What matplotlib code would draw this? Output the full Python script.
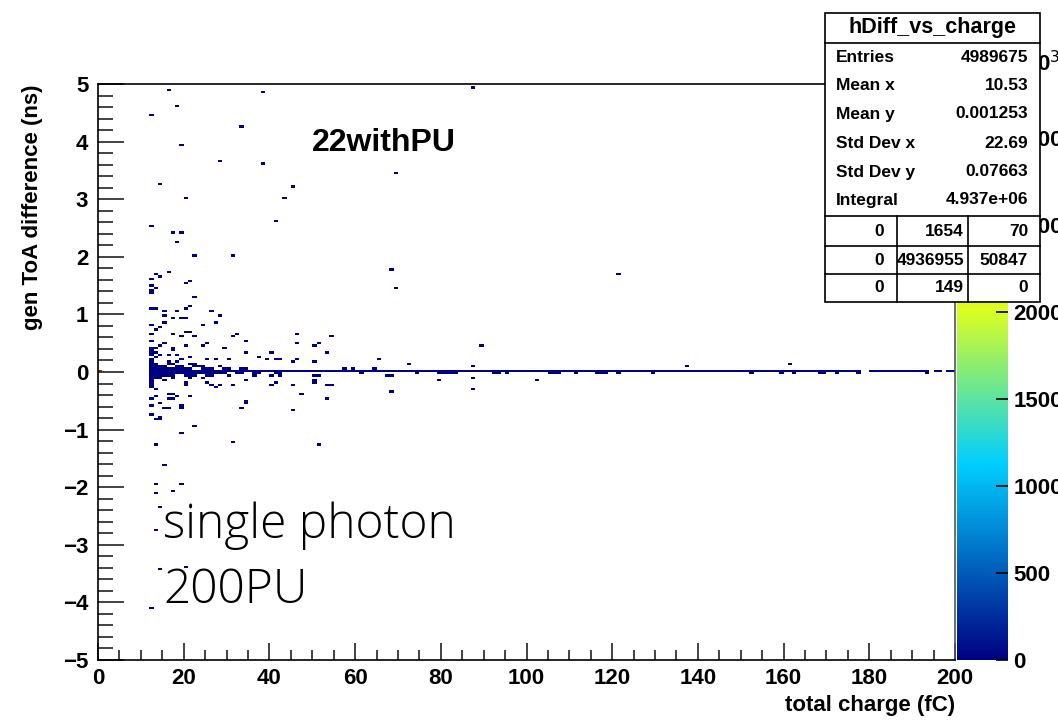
import numpy as np
import matplotlib.pyplot as plt
from matplotlib.colors import LinearSegmentedColormap
from matplotlib.patches import Rectangle
from matplotlib.lines import Line2D

W, H = 1058, 720

# isolated filled bins: charge (fC), ToA difference (ns)
sparse_x = [16.6, 38.3, 87.3, 18.4, 12.4, 33.4, 19.4, 28.3, 38.3, 69.3, 14.2, 45.5, 20.5, 43.2,
            12.6, 41.5, 17.5, 19.4, 18.4, 22.6, 31.5, 68.4, 69.3, 121.2,
            13.5, 14.5, 16.6, 12.6, 12.6, 13.5, 12.6, 12.6, 20.3, 21.5, 22.6, 12.6, 13.5, 15.4,
            15.4, 18.4, 20.3, 21.5, 26.6, 28.2, 17.5, 19.4, 20.3, 27.3, 12.6, 15.4, 13.5, 14.5,
            24.5, 20.3, 21.5, 17.5, 19.4, 12.6, 12.6, 22.6, 31.5, 32.4, 34.3, 46.4, 54.4, 15.4,
            14.5, 13.5, 17.5, 17.5, 24.3, 25.4, 20.5, 29.4, 34.3, 40.4, 46.4, 50.6, 51.4, 53.3,
            12.6, 14.5, 16.5, 18.4, 21.5, 12.6, 16.6, 18.4, 19.4, 25.4, 27.3, 30.4, 37.6, 39.5,
            41.5, 42.5, 45.5, 46.4, 50.6, 65.3, 57.0, 59.4, 64.3, 72.1, 87.2, 137.2, 161.0, 89.4,
            50.6, 12.5, 12.5, 12.5, 12.5, 13.5, 13.5,
            67.0, 68.0, 68.4, 54.6, 53.4, 50.6, 51.4, 47.4, 45.5, 53.4, 45.5, 40.4, 41.5, 40.4,
            42.5, 34.3, 36.6, 31.5, 34.3, 33.2, 27.3, 28.2, 26.4, 25.4, 24.5, 21.5, 20.3, 20.3,
            22.6, 19.4, 18.4, 17.5, 16.6, 16.6, 17.5, 16.6, 19.4, 19.4, 14.5, 12.6, 13.5, 12.6,
            12.6, 14.5, 13.5, 14.2, 15.4, 33.4, 34.3, 13.5, 31.5, 51.3, 15.4, 13.5, 13.5, 17.5,
            19.4, 14.2, 13.5, 14.2, 20.5, 12.6, 87.2, 87.2, 79.3, 102.3, 50.6, 50.6, 54.3,
            12.5, 12.5, 13.5,
            61.4, 74.4, 95.2, 111.6, 121.4, 129.1, 152.6, 159.2, 162.0, 168.0, 169.9, 172.9,
            177.8, 193.0]
sparse_y = [4.90, 4.87, 4.95, 4.64, 4.45, 4.27, 3.92, 3.66, 3.61, 3.47, 3.26, 3.21, 3.04, 3.02,
            2.53, 2.62, 2.41, 2.43, 2.27, 2.03, 2.01, 1.77, 1.46, 1.70,
            1.70, 1.67, 1.72, 1.61, 1.51, 1.48, 1.44, 1.38, 1.53, 1.58, 1.32, 1.11, 1.09, 1.06,
            0.99, 1.06, 1.11, 1.13, 1.06, 0.97, 0.92, 0.92, 0.95, 0.87, 0.83, 0.85, 0.75, 0.77,
            0.80, 0.71, 0.69, 0.66, 0.63, 0.66, 0.56, 0.63, 0.61, 0.64, 0.56, 0.64, 0.61, 0.52,
            0.45, 0.43, 0.43, 0.38, 0.47, 0.50, 0.45, 0.42, 0.36, 0.35, 0.49, 0.45, 0.50, 0.35,
            0.33, 0.31, 0.31, 0.31, 0.27, 0.24, 0.17, 0.20, 0.24, 0.22, 0.22, 0.22, 0.26, 0.22,
            0.22, 0.24, 0.17, 0.22, 0.17, 0.24, 0.07, 0.07, 0.05, 0.16, 0.10, 0.10, 0.14, 0.45,
            0.19, 0.21, 0.29, 0.37, 0.41, 0.25, 0.33,
            -0.07, -0.07, -0.35, -0.24, -0.21, -0.07, -0.07, -0.37, -0.24, -0.47, -0.66, -0.24,
            -0.19, -0.06, -0.07, -0.16, -0.05, -0.21, -0.50, -0.60, -0.28, -0.24, -0.24, -0.19,
            -0.09, -0.42, -0.24, -0.19, -0.95, -1.08, -0.42, -0.47, -0.47, -0.38, -0.38, -0.63,
            -0.56, -0.61, -0.52, -0.45, -0.42, -0.56, -0.73, -0.80, -0.82, -0.78, -0.63, -0.61,
            -0.52, -1.24, -1.22, -1.24, -1.61, -1.93, -2.09, -2.06, -1.96, -2.36, -2.76, -3.42,
            -3.37, -4.11, -0.09, -0.31, -0.14, -0.16, -0.14, -0.20, -0.24,
            -0.23, -0.27, -0.31,
            -0.03, -0.03, -0.03, -0.03, -0.03, -0.03, -0.03, -0.03, -0.03, -0.03, -0.03, -0.03,
            -0.03, -0.03]

# horizontal stretches of filled bins: ToA row, charge from, charge to
run_y = [0.01, 0.01, 0.01, 0.01,
         -0.03, -0.03, -0.03, -0.03, -0.03, -0.03, -0.03, -0.03,
         0.05, 0.05, 0.05, 0.05,
         -0.07, -0.07, -0.07, -0.07,
         0.09, 0.09, 0.09, 0.09,
         -0.11, -0.11, -0.11,
         0.13, 0.13, 0.13,
         -0.15, -0.15, 0.17, -0.19]
run_x0 = [12, 180, 195, 198,
          12, 32, 36, 41, 79, 92, 105, 116,
          12, 24, 29, 33,
          12, 20, 25, 30,
          12, 18, 22, 28,
          12, 17, 21,
          12, 16, 21,
          12, 15, 12, 12]
run_x1 = [178, 194, 197, 200,
          30, 34, 38, 43, 84, 94, 108, 119,
          22, 27, 31, 35,
          18, 23, 27, 31,
          16, 20, 25, 29,
          15, 18, 22,
          14, 18, 23,
          13, 16, 13, 13]

# the hot bin at zero charge
hot_x, hot_y, hot_n = 0.5, 0.01, 3.05e6
z_max = 3.31e6

x_edges = np.linspace(0, 200, 201)
y_edges = np.linspace(-5, 5, 251)


def fig_xy(px, py):
    return px / W, 1 - py / H


xs, ys, ws = list(sparse_x), list(sparse_y), [1.0] * len(sparse_x)
for yy, a, b in zip(run_y, run_x0, run_x1):
    cx = np.arange(a, b) + 0.5
    xs += list(cx)
    ys += [yy] * len(cx)
    ws += [1.0] * len(cx)
xs.append(hot_x)
ys.append(hot_y)
ws.append(hot_n)

counts, _, _ = np.histogram2d(xs, ys, bins=[x_edges, y_edges], weights=ws)
counts = np.ma.masked_equal(counts.T, 0)

root_cmap = LinearSegmentedColormap.from_list(
    'root', [(0.0, (0.0, 0.0, 0.51)), (0.34, (0.0, 0.81, 1.0)), (0.61, (0.87, 1.0, 0.12)),
             (0.84, (1.0, 0.2, 0.0)), (1.0, (0.51, 0.0, 0.0))], N=255)

plt.rcParams['font.family'] = ['Liberation Sans', 'DejaVu Sans']
fig = plt.figure(figsize=(W / 100, H / 100), dpi=100)
ax = fig.add_axes([98 / W, 60 / H, 857 / W, 576 / H])
mesh = ax.pcolormesh(x_edges, y_edges, counts, cmap=root_cmap, vmin=0, vmax=z_max)

ax.set_xlim(0, 200)
ax.set_ylim(-5, 5)
ax.set_xticks(np.arange(0, 201, 20))
ax.set_xticks(np.arange(0, 201, 5), minor=True)
ax.set_yticks(np.arange(-5, 6, 1))
ax.set_yticks(np.arange(-5, 5.01, 0.2), minor=True)
ax.set_yticklabels(['\u2212%d' % -v if v < 0 else '%d' % v for v in range(-5, 6)])
ax.tick_params(axis='both', which='both', direction='in', labelsize=16, width=1.2, color='#222222')
ax.tick_params(axis='x', which='major', length=12, pad=6)
ax.tick_params(axis='x', which='minor', length=7)
ax.tick_params(axis='y', which='major', length=19, pad=7)
ax.tick_params(axis='y', which='minor', length=11)
for lab in ax.get_xticklabels() + ax.get_yticklabels():
    lab.set_fontweight('bold')
for s in ax.spines.values():
    s.set_linewidth(1.2)
ax.spines['right'].set_color('#555555')

fig.text(*fig_xy(33, 85), 'gen ToA difference (ns)', rotation=90, ha='center', va='top',
         fontsize=16, fontweight='bold')
fig.text(*fig_xy(955, 705), 'total charge (fC)', ha='right', va='center',
         fontsize=16, fontweight='bold')
fig.text(*fig_xy(312, 143), '22withPU', ha='left', va='center',
         fontsize=23, fontweight='bold')
fig.text(*fig_xy(163, 526), 'single photon', family=['Open Sans', 'Noto Sans'], fontweight=300,
         fontsize=34.5, ha='left', va='center')
fig.text(*fig_xy(163, 591), '200PU', family=['Open Sans', 'Noto Sans'], fontweight=300,
         fontsize=34.5, ha='left', va='center')

# colour scale
cax = fig.add_axes([957 / W, 60 / H, 51 / W, 576 / H])
cb = fig.colorbar(mesh, cax=cax)
cb.outline.set_visible(False)
cb.set_ticks(np.arange(0, 3001e3, 500e3))
cb.set_ticklabels(['%d' % (v / 1000) for v in np.arange(0, 3001e3, 500e3)])
cax.tick_params(direction='in', length=9, width=1.2, labelsize=16, pad=4)
for lab in cax.get_yticklabels():
    lab.set_fontweight('bold')
fig.text(*fig_xy(1012, 64), '\u00d710$^{3}$', ha='left', va='center', fontsize=16,
         fontweight='bold')

# stats box
x0b, x1b, y0b, y1b = 825, 1040, 13, 302
fig.add_artist(Rectangle(fig_xy(x0b, y1b), (x1b - x0b) / W, (y1b - y0b) / H,
                         transform=fig.transFigure, facecolor='white', edgecolor='black',
                         linewidth=1.2, zorder=10))
for yy in [43, 216, 246, 274]:
    fig.add_artist(Line2D([x0b / W, x1b / W], [1 - yy / H] * 2, color='black', lw=1.2,
                          transform=fig.transFigure, zorder=11))
for xx in [897, 968]:
    fig.add_artist(Line2D([xx / W] * 2, [1 - 216 / H, 1 - y1b / H], color='black', lw=1.2,
                          transform=fig.transFigure, zorder=11))
fig.text(*fig_xy(932, 28), 'hDiff_vs_charge', ha='center', va='center', fontsize=15.5,
         fontweight='semibold', zorder=12)
stat_names = ['Entries', 'Mean x', 'Mean y', 'Std Dev x', 'Std Dev y', 'Integral']
stat_vals = ['4989675', '10.53', '0.001253', '22.69', '0.07663', '4.937e+06']
stat_rows = [57, 86, 114, 143, 172, 200]
for nm, vl, yy in zip(stat_names, stat_vals, stat_rows):
    fig.text(*fig_xy(836, yy), nm, ha='left', va='center', fontsize=12.5, fontweight='bold',
             zorder=12)
    fig.text(*fig_xy(1028, yy), vl, ha='right', va='center', fontsize=12.5, fontweight='bold',
             zorder=12)
cell_vals = [['0', '1654', '70'], ['0', '4936955', '50847'], ['0', '149', '0']]
cell_rows = [231, 260, 288]
cell_right = [884, 964, 1028]
for row, yy in zip(cell_vals, cell_rows):
    for v, xr in zip(row, cell_right):
        fig.text(*fig_xy(xr, yy), v, ha='right', va='center', fontsize=12.5,
                 fontweight='bold', zorder=12)

fig.savefig('out.png', dpi=100)
